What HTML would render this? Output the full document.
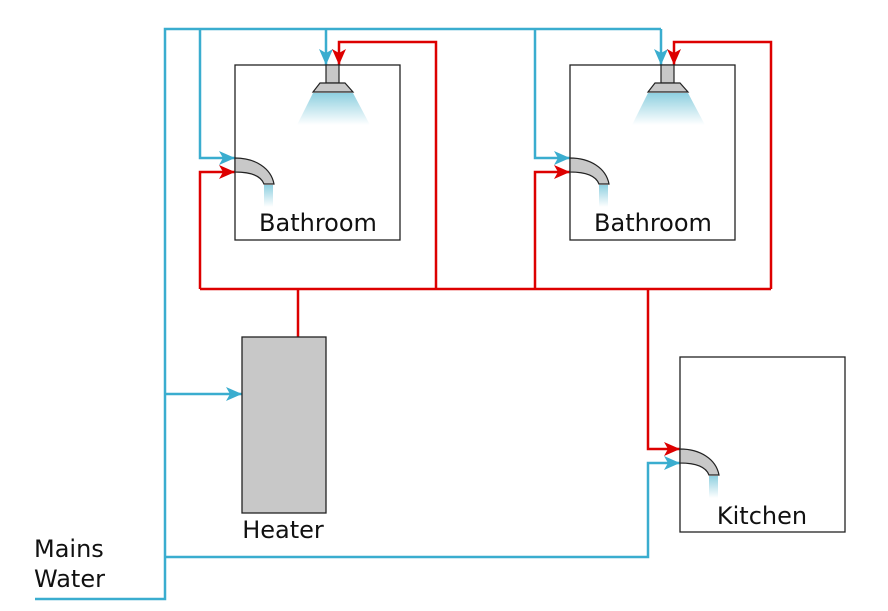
<!DOCTYPE html>
<html><head><meta charset="utf-8"><style>html,body{margin:0;padding:0;background:#fff}svg{display:block}</style></head>
<body>
<svg width="888" height="611" viewBox="0 0 888 611" xmlns="http://www.w3.org/2000/svg" font-family="'DejaVu Sans', 'Liberation Sans', sans-serif">
<defs>
<linearGradient id="spray" x1="0" y1="0" x2="0" y2="1"><stop offset="0" stop-color="#8fd0e0"/><stop offset="1" stop-color="#8fd0e0" stop-opacity="0"/></linearGradient>
<marker id="ab" markerWidth="16" markerHeight="14" refX="16" refY="7" orient="auto" markerUnits="userSpaceOnUse" viewBox="0 0 16 14"><path d="M0,0 L16,7 L0,14 L4,7 Z" fill="#3aadcf"/></marker>
<marker id="ar" markerWidth="16" markerHeight="14" refX="16" refY="7" orient="auto" markerUnits="userSpaceOnUse" viewBox="0 0 16 14"><path d="M0,0 L16,7 L0,14 L4,7 Z" fill="#dd0000"/></marker>
<g id="tap">
<rect x="29" y="27" width="9" height="22" fill="url(#spray)"/>
<path d="M0,0 C20,0 36,10 39,26 L29,26 C26,18 16,14 0,14 Z" fill="#c8c8c8" stroke="#222" stroke-width="1.2"/>
</g>
<g id="shower">
<polygon points="313,93 353,93 370,125 297,125" fill="url(#spray)"/>
<rect x="326" y="65" width="13" height="18" fill="#c8c8c8" stroke="#222" stroke-width="1.2"/>
<polygon points="320,83 345,83 353,92 313,92" fill="#c8c8c8" stroke="#222" stroke-width="1.2"/>
</g>
</defs>
<g fill="none" stroke-width="2.5">
<path d="M35,599 H165 V29 H661" stroke="#3aadcf"/>
<path d="M200,29 V158 H235" stroke="#3aadcf" marker-end="url(#ab)"/>
<path d="M326,29 V65" stroke="#3aadcf" marker-end="url(#ab)"/>
<path d="M535,29 V158 H570" stroke="#3aadcf" marker-end="url(#ab)"/>
<path d="M661,29 V65" stroke="#3aadcf" marker-end="url(#ab)"/>
<path d="M165,394 H242" stroke="#3aadcf" marker-end="url(#ab)"/>
<path d="M165,557 H648 V463 H680" stroke="#3aadcf" marker-end="url(#ab)"/>
<path d="M298,337 V289" stroke="#dd0000"/>
<path d="M200,289 H771" stroke="#dd0000"/>
<path d="M200,289 V172 H235" stroke="#dd0000" marker-end="url(#ar)"/>
<path d="M436,289 V42 H339 V65" stroke="#dd0000" marker-end="url(#ar)"/>
<path d="M535,289 V172 H570" stroke="#dd0000" marker-end="url(#ar)"/>
<path d="M771,289 V42 H674 V65" stroke="#dd0000" marker-end="url(#ar)"/>
<path d="M648,289 V449 H680" stroke="#dd0000" marker-end="url(#ar)"/>
</g>
<g fill="none" stroke="#222" stroke-width="1.3">
<rect x="235" y="65" width="165" height="175"/>
<rect x="570" y="65" width="165" height="175"/>
<rect x="680" y="357" width="165" height="175"/>
</g>
<rect x="242" y="337" width="84" height="176" fill="#c8c8c8" stroke="#222" stroke-width="1.3"/>
<use href="#shower"/>
<use href="#shower" transform="translate(335,0)"/>
<use href="#tap" transform="translate(235,158)"/>
<use href="#tap" transform="translate(570,158)"/>
<use href="#tap" transform="translate(680,449)"/>
<g font-size="24" fill="#111">
<text x="318" y="231" text-anchor="middle">Bathroom</text>
<text x="653" y="231" text-anchor="middle">Bathroom</text>
<text x="762" y="524" text-anchor="middle">Kitchen</text>
<text x="283" y="538" text-anchor="middle">Heater</text>
<text x="34" y="557">Mains</text>
<text x="34" y="587">Water</text>
</g>
</svg>
</body></html>
